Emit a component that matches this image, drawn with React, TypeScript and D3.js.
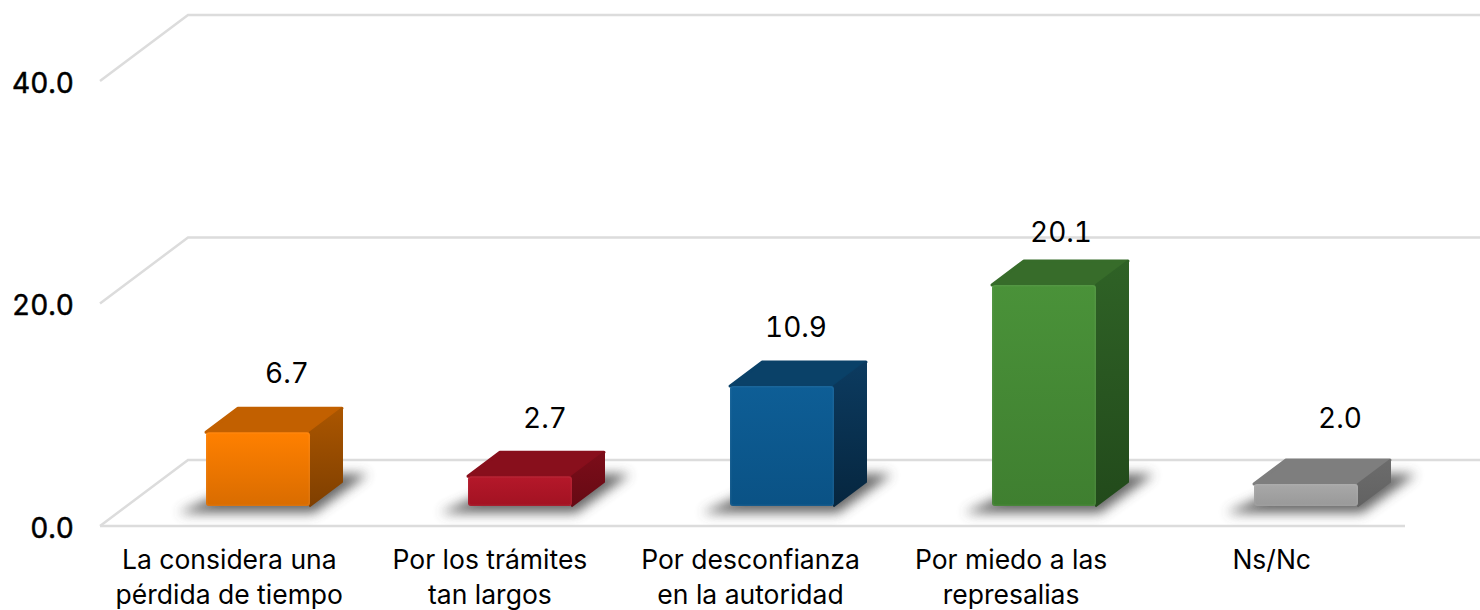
import React from "react";
import * as d3 from "d3";

const categories = [
  ["La considera una", "pérdida de tiempo"],
  ["Por los trámites", "tan largos"],
  ["Por desconfianza", "en la autoridad"],
  ["Por miedo a las", "represalias"],
  ["Ns/Nc"],
];
const values = [6.7, 2.7, 10.9, 20.1, 2.0];
const valueLabels = ["6.7", "2.7", "10.9", "20.1", "2.0"];
const ticks = [0, 20, 40];
const frontTop = ["#ff8000", "#b5182a", "#0e5e96", "#4a9239", "#a8a8a8"];
const frontBottom = ["#d96c00", "#a21222", "#0a5285", "#3f7f30", "#999999"];
const topFace = ["#c26000", "#880f1c", "#0a4168", "#376c2a", "#7e7e7e"];
const sideTop = ["#ab5600", "#7c0d19", "#0c3b60", "#2f6226", "#6c6c6c"];
const sideBottom = ["#7f3f00", "#660a14", "#06263f", "#224a1b", "#626262"];
const labelDx = [29, 25, 14, 17, 34];
const labelDy = [-57, -56, -57, -51, -64];

const FONT = "Inter, 'Liberation Sans', sans-serif";
const TNUM = { fontFeatureSettings: "'tnum'" };
const depthX = 88;
const depthY = -66;
const barDX = 32;
const barDY = -24;

export default function App() {
  const y = d3.scaleLinear().domain([0, 40]).range([526, 81]);
  const barY = d3.scaleLinear().domain([0, 40]).range([506, 66]);
  const xLabel = d3.scaleBand<number>().domain(d3.range(5)).range([100, 1403]);
  const xBar = d3.scaleBand<number>().domain(d3.range(5)).range([100, 1410]);
  const barW = 104;
  const barX = (i: number) => xBar(i)! + xBar.bandwidth() / 2 - barW / 2 + 27;
  const poly = (p: number[][]) => p.map((d) => d.join(",")).join(" ");
  return (
    <svg
      width={1480}
      height={610}
      style={{ position: "absolute", left: 0, top: 0, background: "#fff" }}
    >
      <defs>
        <filter id="blur" x="-30%" y="-60%" width="160%" height="220%">
          <feGaussianBlur stdDeviation="6" />
        </filter>
        {values.map((_, i) => (
          <React.Fragment key={i}>
            <linearGradient id={`f${i}`} x1="0" x2="0" y1="0" y2="1">
              <stop offset="0" stopColor={frontTop[i]} />
              <stop offset="1" stopColor={frontBottom[i]} />
            </linearGradient>
            <linearGradient id={`s${i}`} x1="0" x2="0" y1="0" y2="1">
              <stop offset="0" stopColor={sideTop[i]} />
              <stop offset="1" stopColor={sideBottom[i]} />
            </linearGradient>
          </React.Fragment>
        ))}
      </defs>

      {ticks.map((t) => (
        <g key={t}>
          <polyline
            points={poly([
              [100, y(t)],
              [100 + depthX, y(t) + depthY],
              [1480, y(t) + depthY],
            ])}
            fill="none"
            stroke="#dcdcdc"
            strokeWidth={2.5}
          />
          <text
            x={74}
            y={y(t) + 4}
            textAnchor="end"
            dominantBaseline="middle"
            fontFamily={FONT}
            fontSize={28}
            stroke="#000"
            strokeWidth={0.5}
            style={TNUM}
          >
            {d3.format(".1f")(t)}
          </text>
        </g>
      ))}
      <line x1={100} x2={1405} y1={y(0)} y2={y(0)} stroke="#dcdcdc" strokeWidth={2.5} />

      {values.map((v, i) => {
        const x0 = barX(i);
        const x1 = x0 + barW;
        const y0 = barY(0);
        const yt = barY(v);
        return (
          <g key={i}>
            <polygon
              points={poly([
                [x0 - 28, y0 + 7],
                [x1 + 4, y0 + 7],
                [x1 + 58, y0 - 32],
                [x0 + 60, y0 - 32],
              ])}
              fill="#4d4d4d"
              opacity={0.85}
              filter="url(#blur)"
            />
            <polygon
              points={poly([
                [x0, yt],
                [x0 + barDX, yt + barDY],
                [x1 + barDX, yt + barDY],
                [x1, yt],
              ])}
              fill={topFace[i]}
              stroke={topFace[i]}
              strokeWidth={3}
              strokeLinejoin="round"
            />
            <polygon
              points={poly([
                [x1, yt],
                [x1 + barDX, yt + barDY],
                [x1 + barDX, y0 + barDY],
                [x1, y0],
              ])}
              fill={`url(#s${i})`}
              stroke={`url(#s${i})`}
              strokeWidth={2}
              strokeLinejoin="round"
            />
            <rect
              x={x0}
              y={yt}
              width={barW}
              height={y0 - yt}
              rx={3}
              fill={`url(#f${i})`}
            />
            <rect
              x={x0 + 0.75}
              y={yt + 0.75}
              width={barW - 1.5}
              height={y0 - yt - 1.5}
              rx={3}
              fill="none"
              stroke="#fff"
              strokeOpacity={0.05}
              strokeWidth={1.5}
            />
            <text
              x={x0 + barW / 2 + labelDx[i]}
              y={yt + labelDy[i]}
              textAnchor="middle"
              dominantBaseline="middle"
              fontFamily={FONT}
              fontSize={28}
              fill="#000"
              style={TNUM}
            >
              {valueLabels[i]}
            </text>
          </g>
        );
      })}

      {categories.map((lines, i) =>
        lines.map((line, j) => (
          <text
            key={line}
            x={xLabel(i)! + xLabel.bandwidth() / 2 - 1}
            y={562 + j * 35}
            textAnchor="middle"
            dominantBaseline="middle"
            fontFamily={FONT}
            fontSize={26.5}
            fill="#000"
          >
            {line}
          </text>
        ))
      )}
    </svg>
  );
}
